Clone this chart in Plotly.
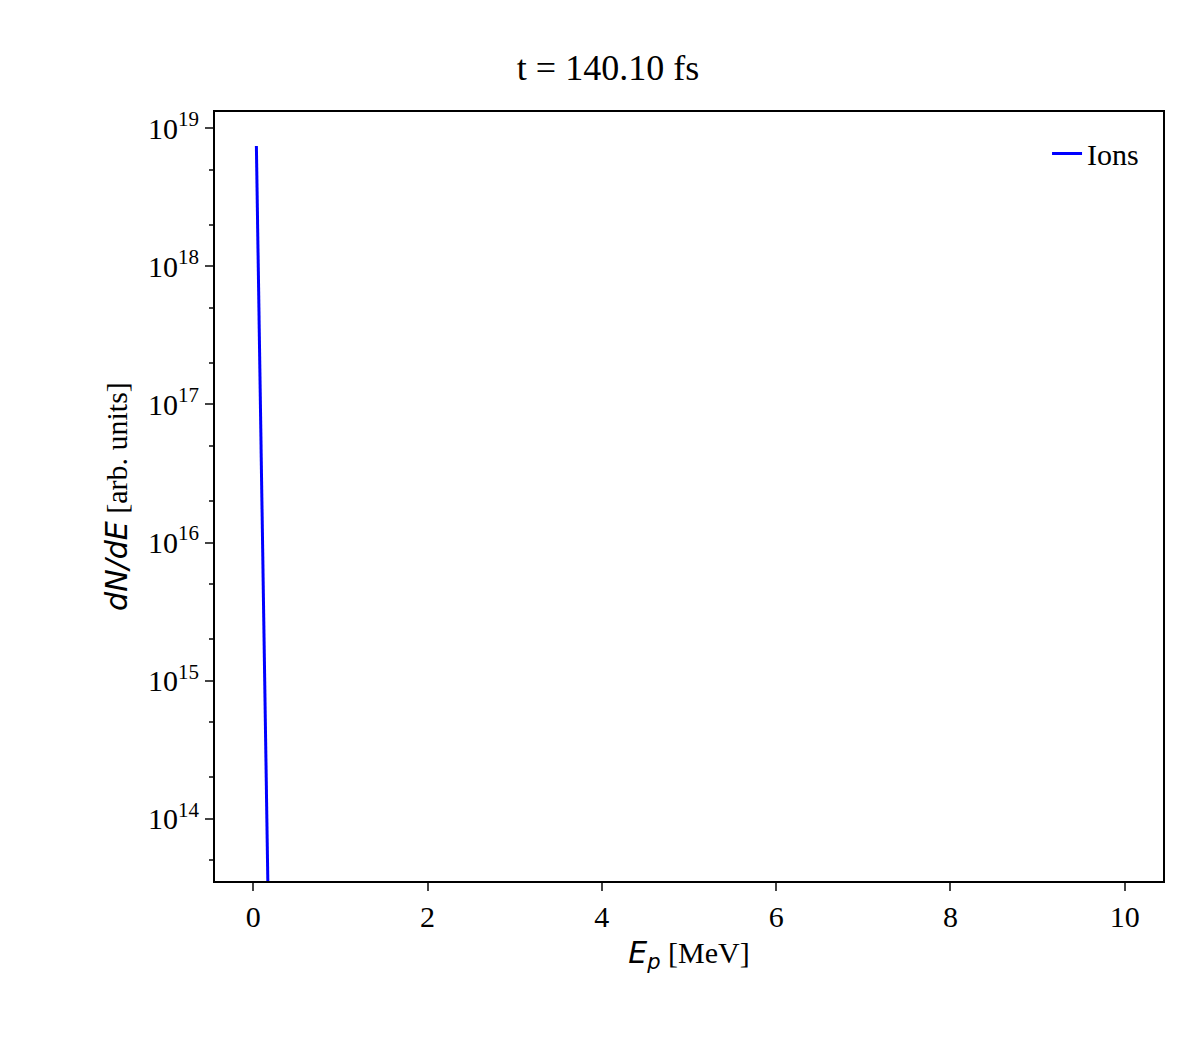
import plotly.graph_objects as go

# spectrum (energy in MeV, dN/dE)
energy = [0.035, 0.17]
dnde = [10 ** 18.87, 10 ** 13.4]
ytick_vals = [1e14, 1e15, 1e16, 1e17, 1e18, 1e19]
ytick_text = ['10<sup>%d</sup>' % p for p in range(14, 20)]
xtick_vals = [0, 2, 4, 6, 8, 10]

serif = 'Liberation Serif, Times New Roman, serif'
sans = 'DejaVu Sans, sans-serif'

fig = go.Figure()
fig.add_trace(go.Scatter(x=energy, y=dnde, mode='lines', name='Ions',
                         line=dict(color='blue', width=3)))

fig.update_layout(
    width=1200, height=1050, template='plotly_white',
    paper_bgcolor='white', plot_bgcolor='white',
    margin=dict(l=207, r=45, t=104, b=177),
    font=dict(family=serif, size=30, color='black'),
    title=dict(text='t = 140.10 fs', x=0.5, xanchor='center', y=0.955,
               font=dict(family=serif, size=36)),
    legend=dict(x=0.98, y=0.98, xanchor='right', yanchor='top',
                bgcolor='rgba(0,0,0,0)', font=dict(family=serif, size=30)),
    showlegend=True,
)
fig.update_xaxes(
    range=[-0.44, 10.44], tickvals=xtick_vals, showgrid=False, zeroline=False,
    showline=True, linecolor='black', linewidth=2, mirror=True,
    ticks='outside', ticklen=8, tickwidth=2,
    title=dict(text='<span style="font-family:DejaVu Sans"><i>E<sub>p</sub></i></span> [MeV]',
               font=dict(family=serif, size=30), standoff=10),
)
fig.update_yaxes(
    type='log', range=[13.55, 19.116], tickvals=ytick_vals, ticktext=ytick_text,
    showgrid=False, zeroline=False,
    showline=True, linecolor='black', linewidth=2, mirror=True,
    ticks='outside', ticklen=8, tickwidth=2,
    minor=dict(ticks='outside', ticklen=4, tickwidth=1.5, showgrid=False),
    title=dict(text='<span style="font-family:DejaVu Sans"><i>dN/dE</i></span> [arb. units]',
               font=dict(family=serif, size=30), standoff=12),
)

fig.write_html("out.html")
